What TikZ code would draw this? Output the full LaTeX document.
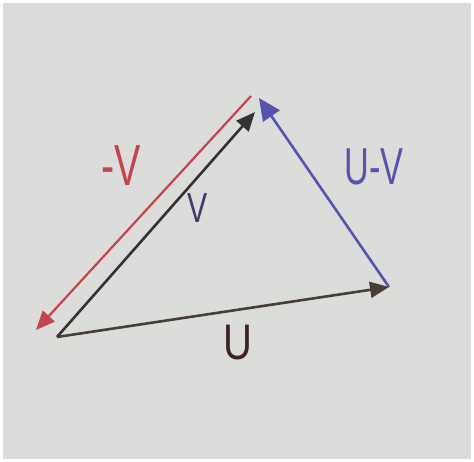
\documentclass[tikz,border=0pt]{standalone}
\usepackage{fontspec}
\setmainfont{Liberation Sans}
\usetikzlibrary{arrows.meta}
\definecolor{paper}{RGB}{220,221,218}
\definecolor{inkred}{RGB}{196,68,78}
\definecolor{inkblack}{RGB}{52,50,52}
\definecolor{inkblue}{RGB}{86,84,172}
\definecolor{inknavy}{RGB}{62,60,105}
\definecolor{inkbrown}{RGB}{62,34,40}
\tikzset{
  vec/.style={line width=2.6pt, -{Triangle[length=19pt,width=16pt]}},
  lbl/.style={inner sep=0pt, font=\fontsize{#1}{#1}\selectfont},
}
\begin{document}
\begin{tikzpicture}[x=1pt,y=-1pt]
\useasboundingbox (0,0) rectangle (474,462);
\fill[white] (0,0) rectangle (474,462);
\fill[paper] (3,3) rectangle (471,459);
% points
\coordinate (O) at (57,337);
\coordinate (A) at (389,287);
\coordinate (B) at (255,112);
\coordinate (C) at (259,98);
\coordinate (R1) at (251,96);
\coordinate (R2) at (36,330);
% vectors
\draw[vec, inkred, line width=2.2pt] (R1) -- (R2);
\draw[vec, inkblack] (O) -- (B);
\draw[vec, inkblack!85!brown] (O) -- (A);
\draw[inkblue, line width=2.6pt, -{Triangle[length=22pt,width=20pt]}] (A) -- (C);
% labels
\node[lbl=58, text=inkred, xscale=0.68] (lmv) at (121,166) {-V};
\node[lbl=42, text=inknavy, xscale=0.72] (lv) at (198,208) {V};
\node[lbl=52, text=inkblue, xscale=0.66] (luv) at (374,167) {U-V};
\node[lbl=50, text=inkbrown, xscale=0.8] (lu) at (238,343) {U};
\end{tikzpicture}
\end{document}
